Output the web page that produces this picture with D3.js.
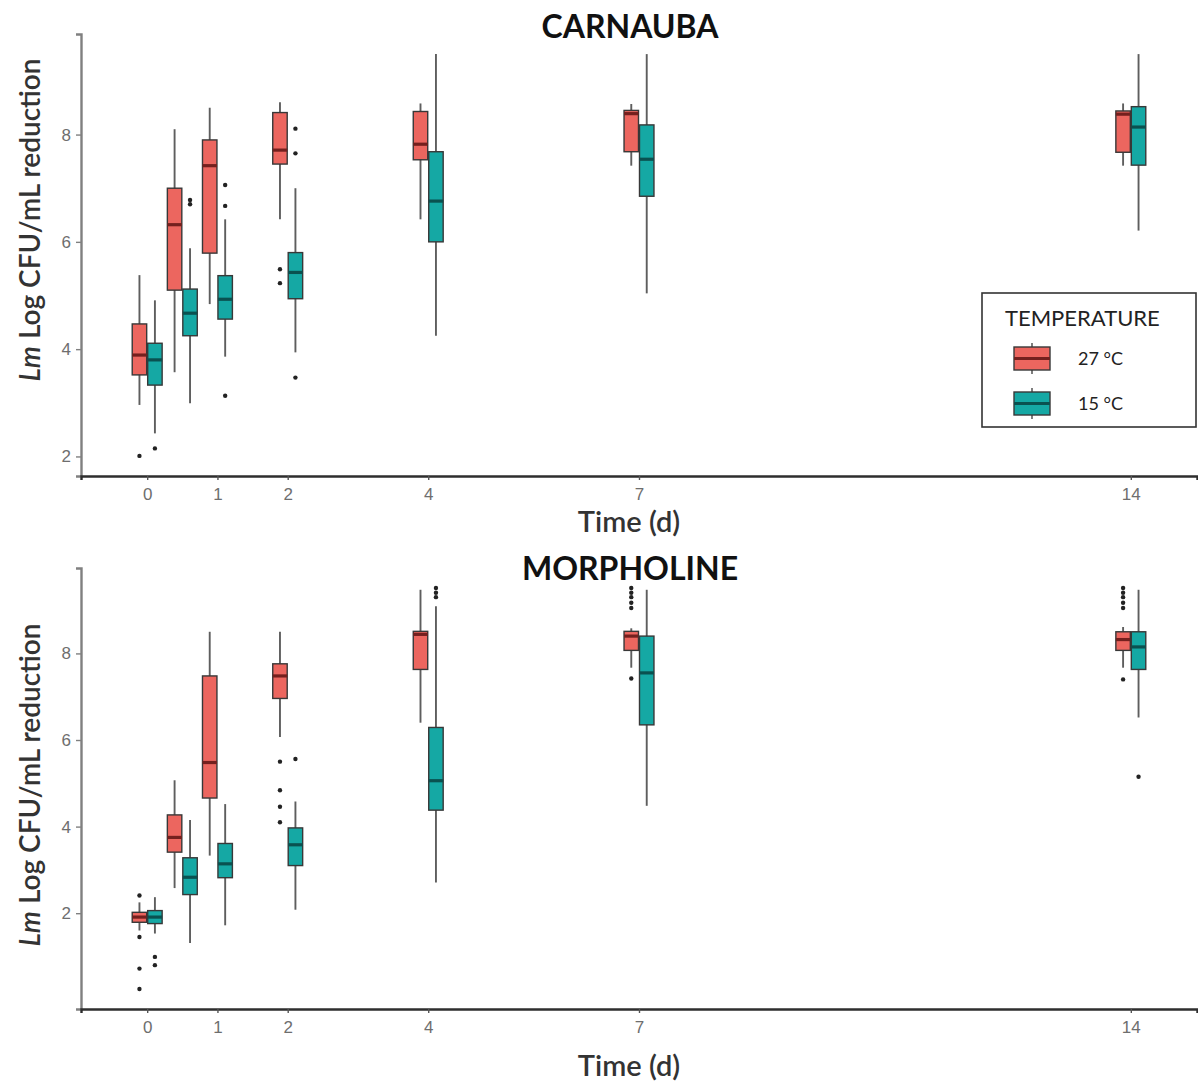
<!DOCTYPE html>
<html>
<head>
<meta charset="utf-8">
<script src="https://cdn.jsdelivr.net/npm/d3@7"></script>
<style>
  body { margin: 0; background: #fff; }
  svg { display: block; }
</style>
</head>
<body>
<svg id="chart" width="1198" height="1082"></svg>
<script>
// Sampling times (days) and labelled ticks
const days = [0, 0.5, 1, 2, 4, 7, 14];
const dayTicks = [0, 1, 2, 4, 7, 14];
const yTicks = [2, 4, 6, 8];
const temperatures = ["27 °C", "15 °C"];
const panelTitles = ["CARNAUBA", "MORPHOLINE"];

// Box statistics per time point: [lower whisker, Q1, median, Q3, upper whisker]
const carnauba27 = [
  [2.96, 3.52, 3.89, 4.47, 5.38],
  [3.57, 5.10, 6.32, 7.00, 8.10],
  [4.84, 5.79, 7.42, 7.90, 8.50],
  [6.42, 7.45, 7.71, 8.41, 8.60],
  [6.42, 7.53, 7.82, 8.43, 8.58],
  [7.42, 7.68, 8.39, 8.45, 8.57],
  [7.42, 7.67, 8.38, 8.44, 8.58]
];
const carnauba27Outliers = [[2.01], [], [], [5.49, 5.23], [], [], []];

const carnauba15 = [
  [2.43, 3.33, 3.80, 4.11, 4.91],
  [2.99, 4.25, 4.67, 5.12, 5.88],
  [3.86, 4.56, 4.93, 5.37, 6.42],
  [3.94, 4.94, 5.43, 5.80, 7.00],
  [4.25, 6.00, 6.76, 7.68, 9.50],
  [5.04, 6.85, 7.54, 8.18, 9.50],
  [6.21, 7.43, 8.14, 8.52, 9.50]
];
const carnauba15Outliers = [[2.15], [6.70, 6.78], [7.06, 6.67, 3.13], [8.11, 7.65, 3.47], [], [], []];

const morpholine27 = [
  [1.60, 1.79, 1.91, 2.02, 2.25],
  [2.58, 3.41, 3.75, 4.27, 5.07],
  [3.33, 4.66, 5.48, 7.48, 8.50],
  [6.07, 6.96, 7.48, 7.76, 8.50],
  [6.40, 7.63, 8.44, 8.51, 9.47],
  [7.67, 8.07, 8.40, 8.51, 8.58],
  [7.67, 8.07, 8.32, 8.50, 8.61]
];
const morpholine27Outliers = [
  [2.41, 1.45, 0.72, 0.25], [], [], [5.50, 4.84, 4.46, 4.10], [],
  [9.51, 9.40, 9.30, 9.17, 9.05, 7.42],
  [9.51, 9.40, 9.30, 9.17, 9.05, 7.40]
];

const morpholine15 = [
  [1.53, 1.76, 1.91, 2.06, 2.37],
  [1.31, 2.43, 2.83, 3.28, 4.15],
  [1.72, 2.82, 3.14, 3.61, 4.52],
  [2.08, 3.10, 3.58, 3.97, 4.58],
  [2.71, 4.38, 5.06, 6.29, 9.09],
  [4.48, 6.35, 7.55, 8.40, 9.47],
  [6.52, 7.63, 8.15, 8.50, 9.47]
];
const morpholine15Outliers = [[0.99, 0.80], [], [], [5.56], [9.51, 9.40, 9.30], [], [5.15]];

// Styling
const fills = ["#EC665F", "#15A8A4"];
const medianColors = ["#74201e", "#0a5150"];
const boxStroke = "#383838";
const whiskerStroke = "#5e5e5e";
const boxWidth = 0.22;           // days
const dodge = [-0.11, 0.11];     // days, per temperature
const labelFont = "Lato, 'Open Sans', sans-serif";
const tickFont = "'Liberation Sans', Arial, sans-serif";

const svg = d3.select("#chart");
svg.append("rect").attr("width", 1198).attr("height", 1082).attr("fill", "#fff");

// Shared x scale with 5% expansion around the dodged box extents
const xMin = d3.min(days) + dodge[0] - boxWidth / 2;
const xMax = d3.max(days) + dodge[1] + boxWidth / 2;
const xPad = (xMax - xMin) * 0.05;
const x = d3.scaleLinear().domain([xMin - xPad, xMax + xPad]).range([81, 1197]);

const panels = [
  { title: panelTitles[0], top: 34, bottom: 476, titleY: 38, xTitleY: 532, yTitleCenter: 220,
    stats: [carnauba27, carnauba15], outliers: [carnauba27Outliers, carnauba15Outliers] },
  { title: panelTitles[1], top: 568, bottom: 1009, titleY: 580, xTitleY: 1076, yTitleCenter: 785,
    stats: [morpholine27, morpholine15], outliers: [morpholine27Outliers, morpholine15Outliers] }
];

panels.forEach(p => {
  const allVals = [];
  p.stats.forEach(s => s.forEach(r => allVals.push(r[0], r[4])));
  p.outliers.forEach(o => o.forEach(list => allVals.push(...list)));
  const [lo, hi] = d3.extent(allVals);
  const pad = (hi - lo) * 0.05;
  const y = d3.scaleLinear().domain([lo - pad, hi + pad]).range([p.bottom, p.top]);

  const g = svg.append("g");

  // Boxes, whiskers, medians and outliers for each temperature
  p.stats.forEach((series, ti) => {
    const grp = g.append("g");
    series.forEach((s, i) => {
      const cx = x(days[i] + dodge[ti]);
      const x0 = x(days[i] + dodge[ti] - boxWidth / 2);
      const x1 = x(days[i] + dodge[ti] + boxWidth / 2);
      grp.append("line")
        .attr("x1", cx).attr("x2", cx)
        .attr("y1", y(s[0])).attr("y2", y(s[4]))
        .attr("stroke", whiskerStroke).attr("stroke-width", 1.9);
      grp.append("rect")
        .attr("x", x0 + 0.5).attr("width", x1 - x0 - 1)
        .attr("y", y(s[3])).attr("height", y(s[1]) - y(s[3]))
        .attr("fill", fills[ti]).attr("stroke", boxStroke).attr("stroke-width", 1.4);
      grp.append("line")
        .attr("x1", x0 + 0.5).attr("x2", x1 - 0.5)
        .attr("y1", y(s[2])).attr("y2", y(s[2]))
        .attr("stroke", medianColors[ti]).attr("stroke-width", 3.2);
      p.outliers[ti][i].forEach(v => {
        grp.append("circle")
          .attr("cx", cx).attr("cy", y(v)).attr("r", 2.2)
          .attr("fill", "#222");
      });
    });
  });

  // Y axis
  const yAxis = d3.axisLeft(y).tickValues(yTicks).tickSize(5).tickPadding(5);
  const ya = g.append("g").attr("transform", `translate(${x.range()[0]},0)`).call(yAxis);
  ya.select(".domain").attr("stroke", "#808080").attr("stroke-width", 2.4);
  ya.selectAll(".tick line").attr("stroke", "#808080").attr("stroke-width", 1.4);
  ya.selectAll(".tick text").attr("fill", "#6e6e6e").attr("font-family", tickFont).attr("font-size", 17);

  // X axis
  const xAxis = d3.axisBottom(x).tickValues(dayTicks).tickSize(4).tickPadding(8).tickFormat(d3.format("d"));
  const xa = g.append("g").attr("transform", `translate(0,${p.bottom})`).call(xAxis);
  xa.select(".domain").attr("stroke", "#2e2e2e").attr("stroke-width", 2.4);
  xa.selectAll(".tick line").attr("stroke", "#555").attr("stroke-width", 1.4);
  xa.selectAll(".tick text").attr("fill", "#6e6e6e").attr("font-family", tickFont).attr("font-size", 17);

  // Titles
  g.append("text")
    .attr("x", 630).attr("y", p.titleY)
    .attr("text-anchor", "middle")
    .attr("font-family", labelFont).attr("font-weight", 700).attr("font-size", 32)
    .attr("fill", "#111")
    .text(p.title);

  g.append("text")
    .attr("x", 629).attr("y", p.xTitleY)
    .attr("text-anchor", "middle")
    .attr("font-family", labelFont).attr("font-weight", 600).attr("font-size", 29)
    .attr("fill", "#333")
    .text("Time (d)");

  const yt = g.append("text")
    .attr("transform", `translate(40,${p.yTitleCenter}) rotate(-90)`)
    .attr("text-anchor", "middle")
    .attr("font-family", labelFont).attr("font-weight", 600).attr("font-size", 28)
    .attr("fill", "#333");
  yt.append("tspan").attr("font-style", "italic").text("Lm");
  yt.append("tspan").text(" Log CFU/mL reduction");
});

// Legend
const legend = svg.append("g").attr("transform", "translate(982,293)");
legend.append("rect")
  .attr("width", 214).attr("height", 134)
  .attr("fill", "#fff").attr("stroke", "#333").attr("stroke-width", 1.6);
legend.append("text")
  .attr("x", 23).attr("y", 33)
  .attr("font-family", labelFont).attr("font-size", 22).attr("fill", "#222")
  .text("TEMPERATURE");
temperatures.forEach((t, i) => {
  const ky = 54 + i * 45;
  const kg = legend.append("g").attr("transform", `translate(32,${ky})`);
  kg.append("line").attr("x1", 18).attr("x2", 18).attr("y1", -4).attr("y2", 27)
    .attr("stroke", whiskerStroke).attr("stroke-width", 1.6);
  kg.append("rect").attr("width", 36).attr("height", 23)
    .attr("fill", fills[i]).attr("stroke", boxStroke).attr("stroke-width", 1.4);
  kg.append("line").attr("x1", 0).attr("x2", 36).attr("y1", 11.5).attr("y2", 11.5)
    .attr("stroke", medianColors[i]).attr("stroke-width", 3);
  legend.append("text")
    .attr("x", 96).attr("y", ky + 18)
    .attr("font-family", labelFont).attr("font-size", 18).attr("fill", "#222")
    .text(t);
});
</script>
</body>
</html>
